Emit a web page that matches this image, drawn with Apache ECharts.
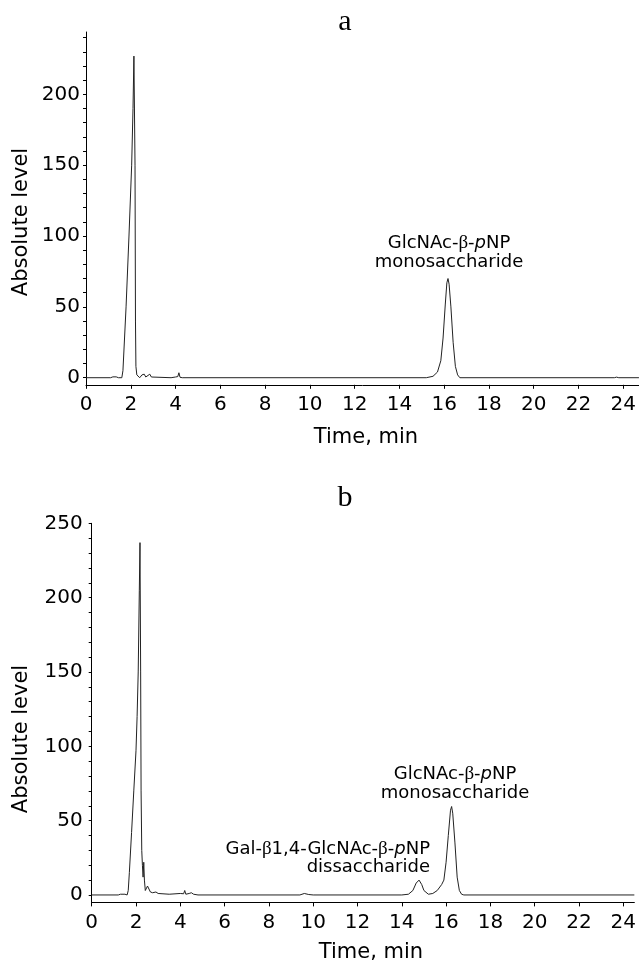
<!DOCTYPE html>
<html><head><meta charset="utf-8">
<script src="https://cdn.jsdelivr.net/npm/echarts@6/dist/echarts.min.js"></script>
<style>html,body{margin:0;padding:0;background:#fff}#c{width:639px;height:967px}</style>
</head><body><div id="c"></div>
<script>
// Panel a trace (time in min, absolute level)
const timeA = [0, 1.1, 1.2, 1.35, 1.45, 1.6, 1.65, 1.79, 1.92, 2.04, 2.1, 2.14, 2.17, 2.19, 2.21, 2.23, 2.27, 2.33, 2.4, 2.5, 2.55, 2.6, 2.67, 2.75, 2.85, 2.92, 3.0, 3.8, 4.0, 4.1, 4.15, 4.2, 4.3, 15.2, 15.5, 15.7, 15.85, 15.95, 16.05, 16.12, 16.17, 16.22, 16.3, 16.4, 16.5, 16.6, 16.7, 23.6, 23.7, 23.8, 24.7];
const levelA = [0, 0, 0.6, 0.6, 0, 0, 5, 50, 100, 150, 190, 227, 227, 150, 40, 8, 2, 1, 0, 2, 1, 2.5, 0.5, 1, 2.5, 0.5, 0, 0, 0.5, 0.8, 3.5, 0.3, 0, 0, 1, 4, 12, 28, 52, 67, 70, 66, 50, 25, 8, 2, 0, 0, 0.4, 0, 0];
// Panel b trace
const timeB = [0, 1.2, 1.3, 1.5, 1.6, 1.65, 1.7, 1.8, 1.9, 2.0, 2.05, 2.1, 2.15, 2.18, 2.2, 2.21, 2.23, 2.26, 2.29, 2.32, 2.35, 2.38, 2.42, 2.47, 2.52, 2.58, 2.65, 2.75, 2.9, 3.0, 3.5, 4.0, 4.15, 4.2, 4.25, 4.4, 4.5, 4.6, 4.8, 9.4, 9.6, 9.8, 10.0, 14.0, 14.3, 14.5, 14.65, 14.78, 14.9, 15.0, 15.2, 15.4, 15.6, 15.8, 15.9, 16.0, 16.1, 16.2, 16.25, 16.3, 16.4, 16.5, 16.6, 16.7, 16.8, 24.5];
const levelB = [0, 0, 0.5, 0.5, 0, 3, 15, 42, 70, 97, 120, 150, 205, 237, 237, 150, 70, 30, 20, 12, 22, 10, 3, 2, 6, 6, 2, 1.5, 2, 1, 0.5, 1, 0.8, 3, 0.5, 1, 1.5, 0.5, 0, 0, 1, 0.3, 0, 0, 0.5, 3, 8, 10, 7, 3, 0.5, 1, 3, 7, 10, 22, 40, 57, 59.5, 55, 35, 12, 3, 0.5, 0, 0];
// Tick values
const yLabelsA = [0, 50, 100, 150, 200];
const yTicksA = [0, 10, 20, 30, 40, 50, 60, 70, 80, 90, 100, 110, 120, 130, 140, 150, 160, 170, 180, 190, 200, 210, 220, 230, 240];
const yLabelsB = [0, 50, 100, 150, 200, 250];
const yTicksB = [0, 10, 20, 30, 40, 50, 60, 70, 80, 90, 100, 110, 120, 130, 140, 150, 160, 170, 180, 190, 200, 210, 220, 230, 240, 250];
const xTicks = [0, 2, 4, 6, 8, 10, 12, 14, 16, 18, 20, 22, 24];

const FONT = 'DejaVu Sans';
const zip = (t, v) => t.map((x, i) => [x, v[i]]);

function xAxisFor(gi, max) {
  return {
    type: 'value', gridIndex: gi, min: 0, max: max,
    axisLine: { show: true, onZero: false, lineStyle: { color: '#000', width: 1 } },
    axisTick: { show: true, length: 4, customValues: xTicks, lineStyle: { color: '#000' } },
    axisLabel: { customValues: xTicks, fontFamily: FONT, fontSize: 20, color: '#000', margin: 10 },
    splitLine: { show: false }
  };
}
function yAxisFor(gi, max, labels, ticks, margin) {
  return {
    type: 'value', gridIndex: gi, min: -5, max: max,
    axisLine: { show: true, onZero: false, lineStyle: { color: '#000', width: 1 } },
    axisTick: { show: true, length: 3, customValues: ticks, lineStyle: { color: '#000' } },
    axisLabel: { customValues: labels, fontFamily: FONT, fontSize: 20, color: '#000', margin: margin },
    splitLine: { show: false }
  };
}
const rich = {
  n: { fontFamily: FONT, fontSize: 18, color: '#000' },
  b: { fontFamily: 'Liberation Serif', fontSize: 19, color: '#000' },
  i: { fontFamily: FONT, fontSize: 18, fontStyle: 'italic', color: '#000' }
};
function txt(x, y, text, align, extra) {
  return Object.assign({
    type: 'text', x: x, y: y,
    style: { text: text, rich: rich, font: '18px "DejaVu Sans"', fill: '#000', align: align, verticalAlign: 'middle' }
  }, extra || {});
}
const chart = echarts.init(document.getElementById('c'), null, { renderer: 'canvas' });
chart.setOption({
  animation: false,
  backgroundColor: '#fff',
  grid: [
    { left: 86, top: 32, height: 352.8, right: 0 },
    { left: 91.7, top: 523.3, height: 379.1, right: 0 }
  ],
  xAxis: [xAxisFor(0, 24.7), xAxisFor(1, 24.5)],
  yAxis: [yAxisFor(0, 244, yLabelsA, yTicksA, 6), yAxisFor(1, 250, yLabelsB, yTicksB, 9)],
  series: [
    { type: 'line', xAxisIndex: 0, yAxisIndex: 0, data: zip(timeA, levelA), showSymbol: false, lineStyle: { color: '#222', width: 1 } },
    { type: 'line', xAxisIndex: 1, yAxisIndex: 1, data: zip(timeB, levelB), showSymbol: false, lineStyle: { color: '#222', width: 1 } }
  ],
  graphic: [
    { type: 'text', x: 345, y: 22, style: { text: 'a', font: '30px "Liberation Serif"', fill: '#000', align: 'center', verticalAlign: 'middle' } },
    { type: 'text', x: 345, y: 498, style: { text: 'b', font: '30px "Liberation Serif"', fill: '#000', align: 'center', verticalAlign: 'middle' } },
    { type: 'text', x: 22, y: 222, rotation: Math.PI / 2, style: { text: 'Absolute level', font: '21px "DejaVu Sans"', fill: '#000', align: 'center', verticalAlign: 'middle' } },
    { type: 'text', x: 22, y: 739, rotation: Math.PI / 2, style: { text: 'Absolute level', font: '21px "DejaVu Sans"', fill: '#000', align: 'center', verticalAlign: 'middle' } },
    { type: 'text', x: 366, y: 438, style: { text: 'Time, min', font: '21px "DejaVu Sans"', fill: '#000', align: 'center', verticalAlign: 'middle' } },
    { type: 'text', x: 371, y: 953, style: { text: 'Time, min', font: '21px "DejaVu Sans"', fill: '#000', align: 'center', verticalAlign: 'middle' } },
    txt(449, 243, '{n|GlcNAc-}{b|β}{n|-}{i|p}{n|NP}', 'center'),
    txt(449, 262, '{n|monosaccharide}', 'center'),
    txt(455, 774, '{n|GlcNAc-}{b|β}{n|-}{i|p}{n|NP}', 'center'),
    txt(455, 793, '{n|monosaccharide}', 'center'),
    txt(430, 849, '{n|Gal-}{b|β}{n|1,4-GlcNAc-}{b|β}{n|-}{i|p}{n|NP}', 'right'),
    txt(430, 867, '{n|dissaccharide}', 'right')
  ]
});
</script></body></html>
